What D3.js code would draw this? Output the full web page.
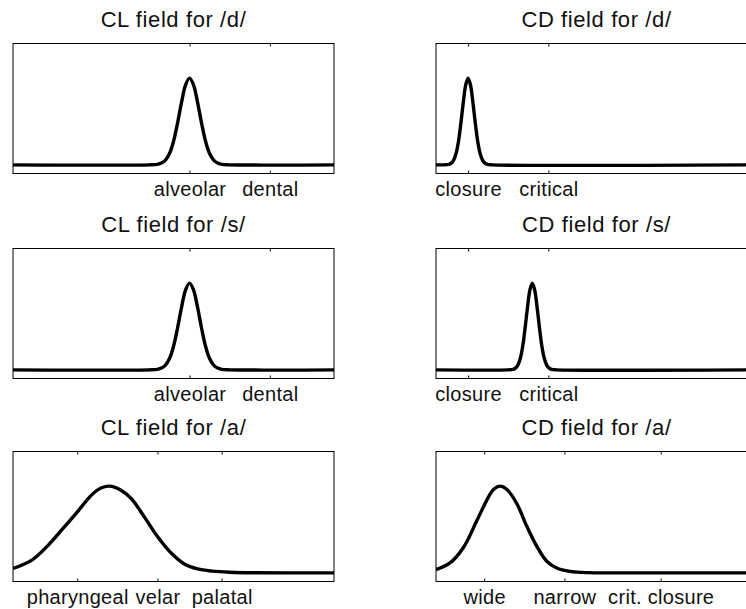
<!DOCTYPE html>
<html>
<head>
<meta charset="utf-8">
<script src="https://cdn.jsdelivr.net/npm/d3@7"></script>
<style>
  body { margin: 0; background: #fff; }
  svg { display: block; }
  .title { font-family: "Liberation Sans", Arial, sans-serif; font-size: 22px; letter-spacing: 0.6px; fill: #111; }
  .axis text { font-family: "Liberation Sans", Arial, sans-serif; font-size: 20px; letter-spacing: 0.3px; fill: #111; }
  .axis line { stroke: #000; }
  .axis path { display: none; }
  .frame { fill: none; stroke: #000; stroke-width: 1; }
  .field { fill: none; stroke: #000; stroke-width: 3.4; }
</style>
</head>
<body>
<svg id="chart" width="746" height="609"></svg>
<script>
// titles
const titles = [
  "CL field for /d/", "CD field for /d/",
  "CL field for /s/", "CD field for /s/",
  "CL field for /a/", "CD field for /a/"
];

// tick positions and labels
const clConsTicks = [11, 16];
const clConsLabels = ["alveolar", "dental"];
const cdConsTicks = [2, 7];
const cdConsLabels = ["closure", "critical"];
const clVowTicks = [4, 9, 13];
const clVowLabels = ["pharyngeal", "velar", "palatal"];
const cdVowTicks = [3, 8, 14];
const cdVowLabels = ["wide", "narrow", "crit. closure"];

// field curves
const clDx = [0, 8.5, 9, 9.25, 9.5, 9.75, 10, 10.25, 10.5, 10.75, 11, 11.25, 11.5, 11.75, 12, 12.25, 12.5, 12.75, 13, 13.5, 20];
const clDy = [0, 0, 0.006, 0.02, 0.054, 0.13, 0.27, 0.48, 0.72, 0.92, 1, 0.92, 0.72, 0.48, 0.27, 0.13, 0.054, 0.02, 0.006, 0, 0];

const clSx = [0, 8.5, 9, 9.25, 9.5, 9.75, 10, 10.25, 10.5, 10.75, 11, 11.25, 11.5, 11.75, 12, 12.25, 12.5, 12.75, 13, 13.5, 20];
const clSy = [0, 0, 0.006, 0.02, 0.054, 0.13, 0.27, 0.48, 0.72, 0.92, 1, 0.92, 0.72, 0.48, 0.27, 0.13, 0.054, 0.02, 0.006, 0, 0];

const cdDx = [0, 0.5, 0.8, 0.95, 1.1, 1.25, 1.4, 1.55, 1.7, 1.85, 2, 2.15, 2.3, 2.45, 2.6, 2.75, 2.9, 3.05, 3.2, 3.5, 20];
const cdDy = [0, 0, 0.006, 0.02, 0.054, 0.13, 0.27, 0.48, 0.72, 0.92, 1, 0.92, 0.72, 0.48, 0.27, 0.13, 0.054, 0.02, 0.006, 0, 0];

const cdSx = [0, 4.5, 4.8, 4.95, 5.1, 5.25, 5.4, 5.55, 5.7, 5.85, 6, 6.15, 6.3, 6.45, 6.6, 6.75, 6.9, 7.05, 7.2, 7.5, 20];
const cdSy = [0, 0, 0.006, 0.02, 0.054, 0.13, 0.27, 0.48, 0.72, 0.92, 1, 0.92, 0.72, 0.48, 0.27, 0.13, 0.054, 0.02, 0.006, 0, 0];

const clAx = [0, 1.2, 2.2, 3.2, 4.0, 4.7, 5.3, 6.0, 6.8, 7.4, 8.2, 9.0, 9.9, 10.7, 11.5, 12.4, 13.5, 15, 20];
const clAy = [0.05, 0.15, 0.32, 0.53, 0.70, 0.86, 0.96, 1, 0.945, 0.85, 0.64, 0.42, 0.22, 0.10, 0.045, 0.02, 0.007, 0.001, 0];

const cdAx = [0, 0.87, 1.7, 2.54, 3.16, 3.57, 4.0, 4.4, 5.03, 5.65, 6.27, 6.9, 7.52, 8.35, 9.5, 11, 20];
const cdAy = [0.037, 0.114, 0.29, 0.6, 0.836, 0.96, 1, 0.965, 0.8, 0.54, 0.31, 0.134, 0.056, 0.017, 0.002, 0, 0];

const svg = d3.select("#chart");

const panelW = 321, panelH = 130;
const colX = [13, 436];
const rowY = [43.5, 248.5, 451.5];

const panels = [
  { xs: clDx, ys: clDy, ticks: clConsTicks, labels: clConsLabels },
  { xs: cdDx, ys: cdDy, ticks: cdConsTicks, labels: cdConsLabels },
  { xs: clSx, ys: clSy, ticks: clConsTicks, labels: clConsLabels },
  { xs: cdSx, ys: cdSy, ticks: cdConsTicks, labels: cdConsLabels },
  { xs: clAx, ys: clAy, ticks: clVowTicks, labels: clVowLabels },
  { xs: cdAx, ys: cdAy, ticks: cdVowTicks, labels: cdVowLabels }
];

panels.forEach((p, i) => {
  const left = colX[i % 2];
  const top = rowY[Math.floor(i / 2)];

  const x = d3.scaleLinear().domain([0, 20]).range([0, panelW]);
  const y = d3.scaleLinear().domain([-0.1, 1.4]).range([panelH, 0]);

  const g = svg.append("g").attr("transform", `translate(${left},${top})`);

  g.append("clipPath").attr("id", "clip" + i)
    .append("rect").attr("width", panelW).attr("height", panelH);

  const line = d3.line()
    .x(d => x(d))
    .y((d, k) => y(p.ys[k]))
    .curve(d3.curveCatmullRom.alpha(0.5));

  g.append("path")
    .datum(p.xs)
    .attr("class", "field")
    .attr("clip-path", `url(#clip${i})`)
    .attr("d", line);

  // bottom ticks with labels, pointing inward
  g.append("g")
    .attr("class", "axis")
    .attr("transform", `translate(0,${panelH})`)
    .call(d3.axisBottom(x)
      .tickValues(p.ticks)
      .tickFormat((d, k) => p.labels[k])
      .tickSize(-3)
      .tickPadding(8));

  // top ticks, no labels
  g.append("g")
    .attr("class", "axis")
    .call(d3.axisTop(x)
      .tickValues(p.ticks)
      .tickFormat("")
      .tickSize(-3));

  g.append("rect")
    .attr("class", "frame")
    .attr("width", panelW)
    .attr("height", panelH);

  g.append("text")
    .attr("class", "title")
    .attr("x", panelW / 2)
    .attr("y", -16.5)
    .attr("text-anchor", "middle")
    .text(titles[i]);
});
</script>
</body>
</html>
